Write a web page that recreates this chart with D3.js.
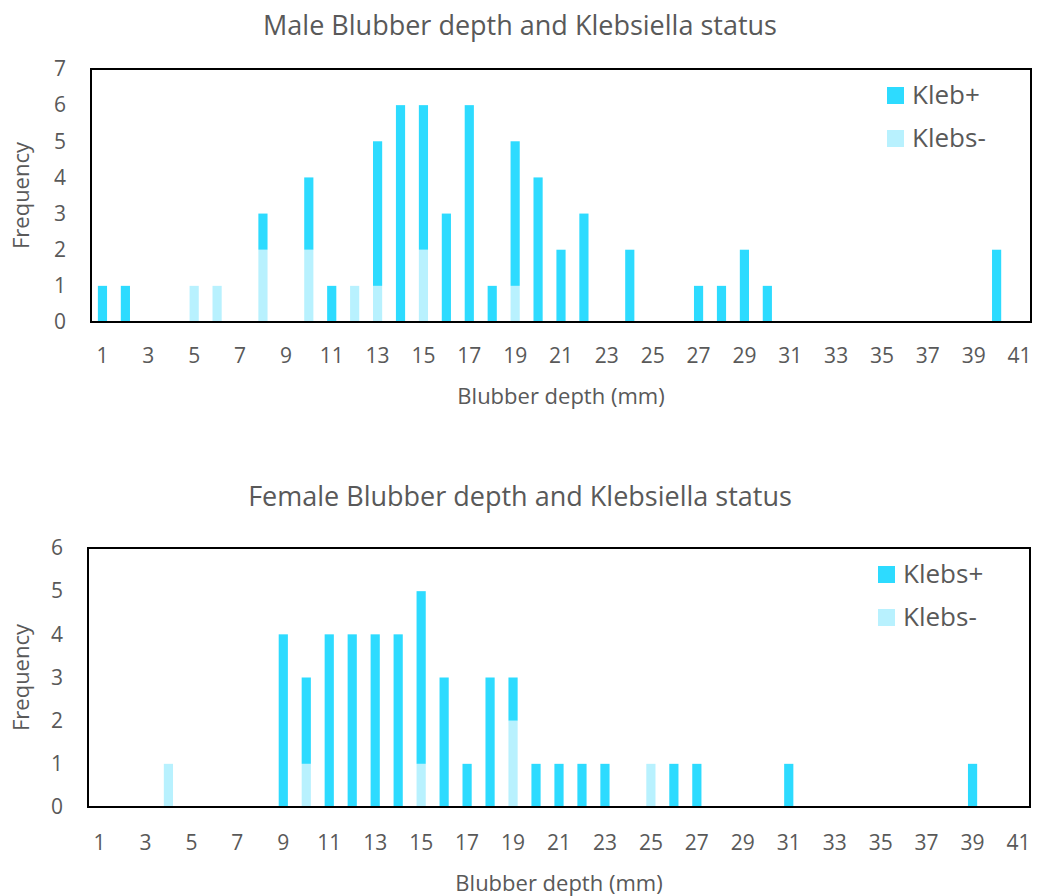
<!DOCTYPE html>
<html>
<head>
<meta charset="utf-8">
<title>Blubber depth and Klebsiella status</title>
<script src="https://cdn.jsdelivr.net/npm/d3@7/dist/d3.min.js"></script>
<style>
  body { margin: 0; background: #fff; }
  text { font-family: "Open Sans", sans-serif; fill: #595959; }
</style>
</head>
<body>
<svg id="chart" width="1038" height="896"></svg>
<script>
// blubber depth categories (mm)
const depths = ["1","2","3","4","5","6","7","8","9","10","11","12","13","14","15","16","17","18","19","20",
  "21","22","23","24","25","26","27","28","29","30","31","32","33","34","35","36","37","38","39","40","41"];

// male counts
const maleKlebPos = [1,1,0,0,0,0,0,1,0,2,1,0,4,6,4,3,6,1,4,4,2,3,0,2,0,0,1,1,2,1,0,0,0,0,0,0,0,0,0,2,0];
const maleKlebNeg = [0,0,0,0,1,1,0,2,0,2,0,1,1,0,2,0,0,0,1,0,0,0,0,0,0,0,0,0,0,0,0,0,0,0,0,0,0,0,0,0,0];

// female counts
const femaleKlebPos = [0,0,0,0,0,0,0,0,4,2,4,4,4,4,4,3,1,3,1,1,1,1,1,0,0,1,1,0,0,0,1,0,0,0,0,0,0,0,1,0,0];
const femaleKlebNeg = [0,0,0,1,0,0,0,0,0,1,0,0,0,0,1,0,0,0,2,0,0,0,0,0,1,0,0,0,0,0,0,0,0,0,0,0,0,0,0,0,0];

const colPos = "#2DDBFF", colNeg = "#B8F1FE";
const svg = d3.select("#chart");

function drawChart(opt) {
  const x = d3.scaleBand().domain(depths).range([opt.left, opt.right]).paddingInner(0.6).paddingOuter(0.3);
  const y = d3.scaleLinear().domain([0, opt.yMax]).range([opt.bottom, opt.top]);

  const g = svg.append("g");

  // title
  g.append("text")
    .attr("x", 520).attr("y", opt.titleY)
    .attr("text-anchor", "middle").attr("font-size", 27)
    .text(opt.title);

  // stacked bars: negative at bottom, positive on top
  const rows = depths.map((d, i) => ({ depth: d, neg: opt.neg[i], pos: opt.pos[i] }));
  const stack = d3.stack().keys(["neg", "pos"])(rows);
  const colours = { neg: colNeg, pos: colPos };

  stack.forEach(layer => {
    g.append("g").attr("fill", colours[layer.key])
      .selectAll("rect")
      .data(layer.filter(d => d[1] > d[0]))
      .join("rect")
      .attr("x", d => x(d.data.depth))
      .attr("width", x.bandwidth())
      .attr("y", d => y(d[1]))
      .attr("height", d => y(d[0]) - y(d[1]));
  });

  // frame
  g.append("rect")
    .attr("x", opt.left).attr("y", opt.top)
    .attr("width", opt.right - opt.left).attr("height", opt.bottom - opt.top)
    .attr("fill", "none").attr("stroke", "#000").attr("stroke-width", 2);

  // y axis labels
  const yAxis = d3.axisLeft(y).ticks(opt.yMax).tickSize(0).tickPadding(25);
  const ya = g.append("g").attr("transform", `translate(${opt.left},0)`).call(yAxis);
  ya.select(".domain").remove();
  ya.selectAll("text").attr("font-size", 21).style("font-family", null).attr("fill", null);

  // x axis labels (odd depths only)
  const xAxis = d3.axisBottom(x).tickSize(0).tickPadding(opt.xPad)
    .tickValues(depths.filter(d => +d % 2 === 1));
  const xa = g.append("g").attr("transform", `translate(0,${opt.bottom})`).call(xAxis);
  xa.select(".domain").remove();
  xa.selectAll("text").attr("font-size", 21).style("font-family", null).attr("fill", null);

  // axis titles
  g.append("text")
    .attr("x", (opt.left + opt.right) / 2).attr("y", opt.xTitleY)
    .attr("text-anchor", "middle").attr("font-size", 22)
    .text("Blubber depth (mm)");
  g.append("text")
    .attr("transform", `translate(29,${(opt.top + opt.bottom) / 2}) rotate(-90)`)
    .attr("text-anchor", "middle").attr("font-size", 22)
    .text("Frequency");

  // legend
  const lg = g.append("g").attr("transform", `translate(${opt.legendX},${opt.legendY})`);
  const items = [{ label: opt.posLabel, c: colPos }, { label: "Klebs-", c: colNeg }];
  items.forEach((it, i) => {
    lg.append("rect").attr("x", 0).attr("y", i * 43).attr("width", 17).attr("height", 17).attr("fill", it.c);
    lg.append("text").attr("x", 25).attr("y", i * 43 + 17).attr("font-size", 26).text(it.label);
  });
}

drawChart({
  title: "Male Blubber depth and Klebsiella status",
  titleY: 35, left: 91, right: 1031, top: 69, bottom: 322, yMax: 7, xPad: 26,
  pos: maleKlebPos, neg: maleKlebNeg, xTitleY: 404,
  posLabel: "Kleb+", legendX: 887, legendY: 87
});

drawChart({
  title: "Female Blubber depth and Klebsiella status",
  titleY: 506, left: 88, right: 1030, top: 548, bottom: 807, yMax: 6, xPad: 28,
  pos: femaleKlebPos, neg: femaleKlebNeg, xTitleY: 891,
  posLabel: "Klebs+", legendX: 878, legendY: 566
});
</script>
</body>
</html>
